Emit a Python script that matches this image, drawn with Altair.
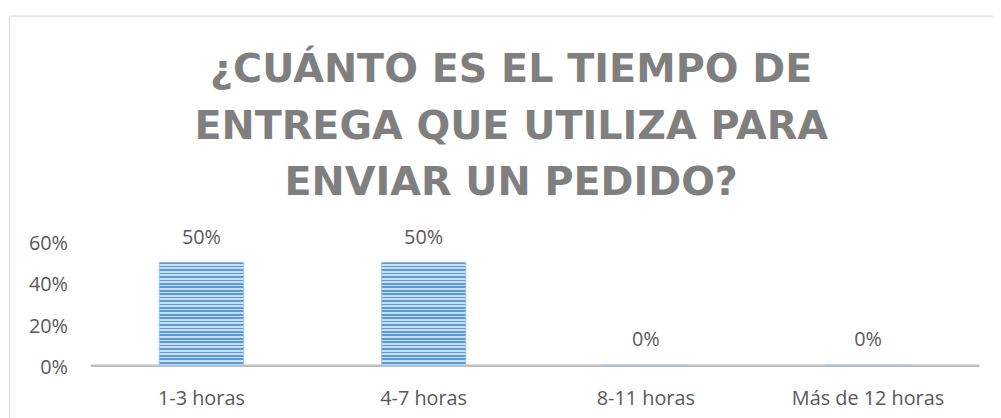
import altair as alt
import pandas as pd

categories = ["1-3 horas", "4-7 horas", "8-11 horas", "Más de 12 horas"]
values = [0.5, 0.5, 0.0, 0.0]
title_lines = ["¿CUÁNTO ES EL TIEMPO DE", "ENTREGA QUE UTILIZA PARA", "ENVIAR UN PEDIDO?"]
y_ticks = [0, 0.2, 0.4, 0.6]

df = pd.DataFrame({"cat": categories, "val": values})

# horizontal stripe pattern emulated with a sharp-stop linear gradient
n_stripes = 30
dark, light = "#5b9bd5", "#c9def3"
stops = []
for i in range(n_stripes):
    a = i / n_stripes
    m = (i + 0.5) / n_stripes
    b = (i + 1) / n_stripes
    stops += [
        {"offset": a, "color": dark},
        {"offset": m, "color": dark},
        {"offset": m, "color": light},
        {"offset": b, "color": light},
    ]
grad = {"gradient": "linear", "x1": 0, "y1": 0, "x2": 0, "y2": 1, "stops": stops}

FONT = "Open Sans"
LABEL = "#595959"

x_enc = alt.X("cat:N", sort=categories, title=None,
              scale=alt.Scale(paddingInner=0.62, paddingOuter=0.31),
              axis=alt.Axis(labelAngle=0, ticks=False, domainColor="#bfbfbf",
                            domainWidth=2.5, labelFont=FONT, labelFontSize=20,
                            labelColor=LABEL, labelPadding=24, grid=False))
y_enc = alt.Y("val:Q", title=None,
              scale=alt.Scale(domain=[0, 0.6], nice=False),
              axis=alt.Axis(values=y_ticks, format=".0%", domain=False, ticks=False,
                            grid=False, labelFont=FONT, labelFontSize=20,
                            labelColor=LABEL, labelPadding=23, labelOffset=2))

bars = alt.Chart(df).mark_bar(color=grad, stroke="#9dc3e6", strokeWidth=0.8).encode(x=x_enc, y=y_enc)
labels = alt.Chart(df).mark_text(baseline="bottom", dy=-15, font=FONT, fontSize=20,
                                 color=LABEL).encode(
    x=alt.X("cat:N", sort=categories), y="val:Q", text=alt.Text("val:Q", format=".0%"))

frame = alt.Chart(pd.DataFrame({"a": [0]})).mark_rect(
    filled=False, stroke="#d9d9d9", strokeWidth=1).encode(
    x=alt.value(-81.5), x2=alt.value(930), y=alt.value(-227.5), y2=alt.value(300))

chart = alt.layer(frame, bars, labels).properties(
    width=896, height=124.5,
    padding={"left": 83, "top": 234, "right": 14, "bottom": 52},
    autosize=alt.AutoSizeParams(type="none"),
    title=alt.TitleParams(text=title_lines, font="DejaVu Sans", fontSize=40, fontWeight="bold",
                          color="#7f7f7f", lineHeight=57, anchor="middle",
                          frame="bounds", offset=0, dy=189),
).configure(background="white").configure_view(stroke=None)

chart.save("out.html", embed_options={"renderer": "svg", "actions": False})
